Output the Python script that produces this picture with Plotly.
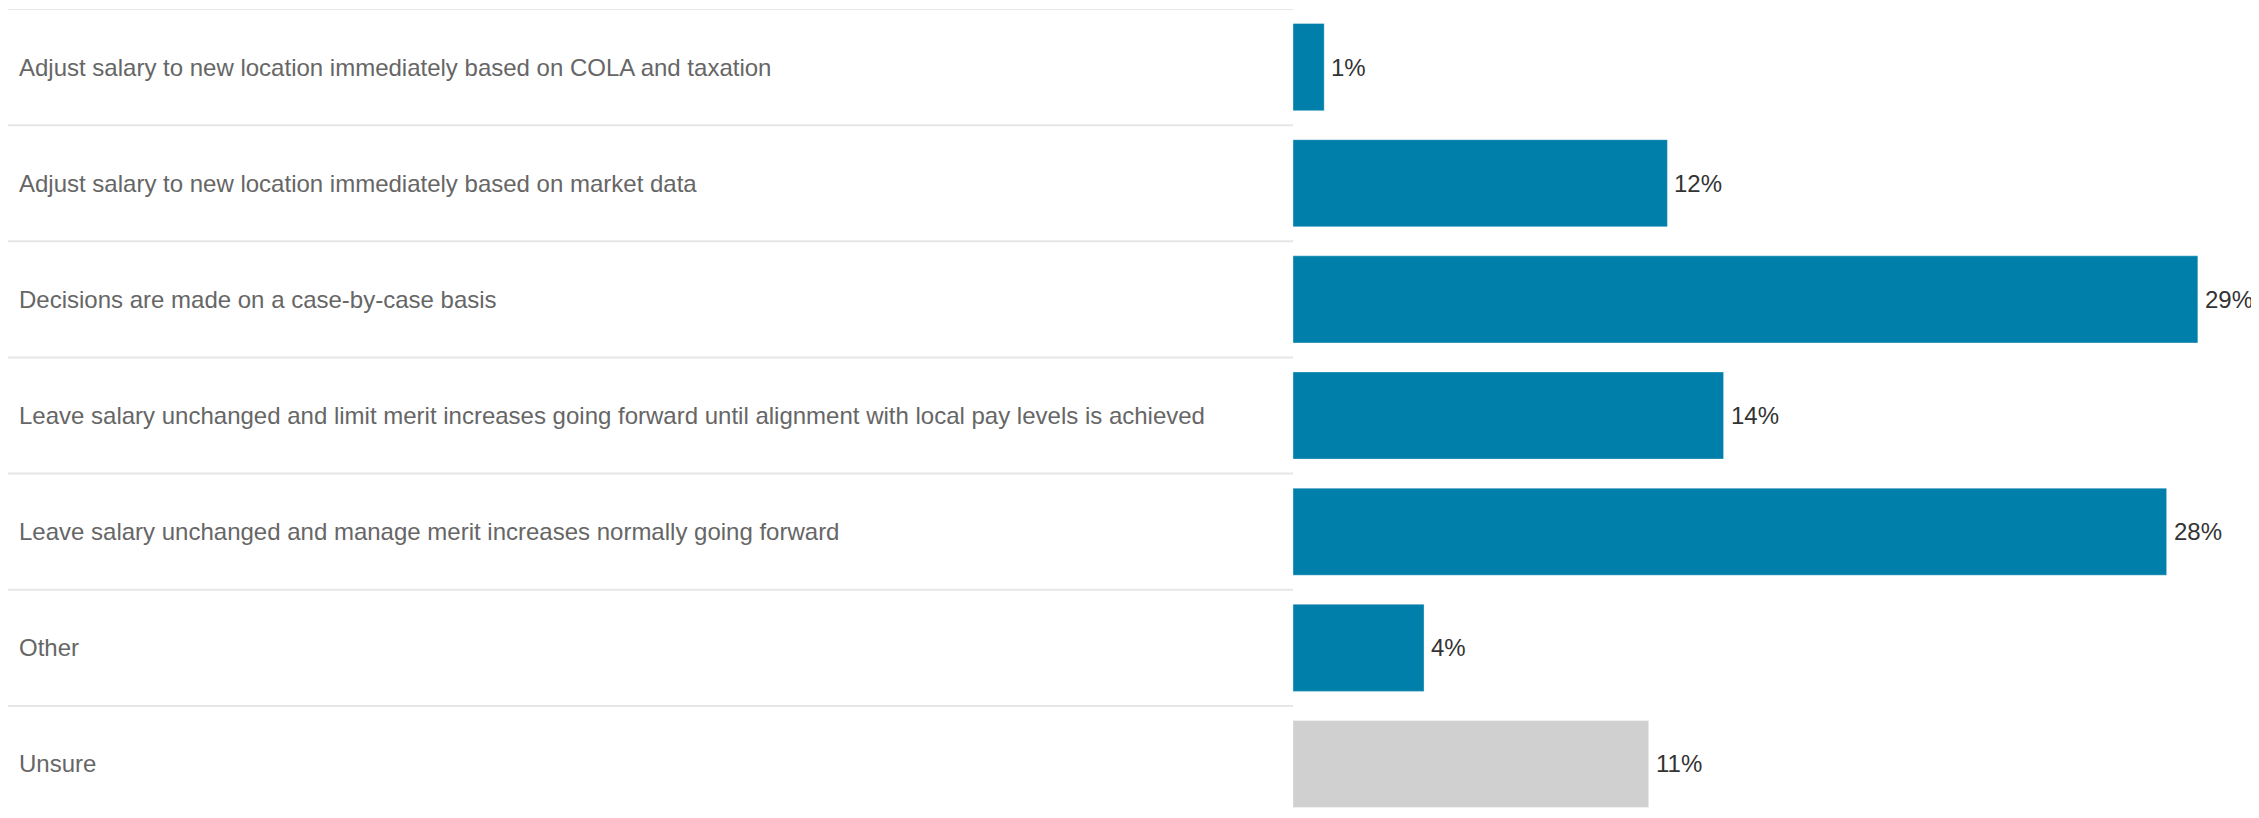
import plotly.graph_objects as go

categories = [
    "Adjust salary to new location immediately based on COLA and taxation",
    "Adjust salary to new location immediately based on market data",
    "Decisions are made on a case-by-case basis",
    "Leave salary unchanged and limit merit increases going forward until alignment with local pay levels is achieved",
    "Leave salary unchanged and manage merit increases normally going forward",
    "Other",
    "Unsure",
]
# bar lengths (labels show the rounded values)
values = [1, 12, 29, 13.8, 28, 4.2, 11.4]
value_labels = ["1%", "12%", "29%", "14%", "28%", "4%", "11%"]
bar_colors = ["#007FAA"] * 6 + ["#D0D0D0"]

W, H = 2251, 810
FONT = "Arial, Liberation Sans, sans-serif"
bar_left_px = 1285

fig = go.Figure()
fig.add_trace(go.Bar(
    x=values,
    y=categories,
    orientation="h",
    marker=dict(color=bar_colors, line=dict(width=1, color="rgba(255,255,255,0.35)")),
    hoverinfo="skip",
    showlegend=False,
))

annotations = []
shapes = []
for i, (cat, v, lab) in enumerate(zip(categories, values, value_labels)):
    annotations.append(dict(
        xref="paper", yref="y", x=9 / W, y=cat, xanchor="left", yanchor="middle",
        text=cat, showarrow=False, font=dict(family=FONT, size=24, color="#666666"),
    ))
    annotations.append(dict(
        xref="x", yref="y", x=v, y=cat, xanchor="left", yanchor="middle", xshift=5,
        text=lab, showarrow=False, font=dict(family=FONT, size=24, color="#333333"),
    ))
    shapes.append(dict(
        type="line", xref="paper", yref="y", x0=0, x1=bar_left_px / W,
        y0=i - 0.5, y1=i - 0.5, line=dict(color="#E6E6E6", width=2), layer="below",
    ))

fig.update_layout(
    width=W, height=H,
    margin=dict(l=0, r=0, t=1, b=0, pad=0),
    paper_bgcolor="white", plot_bgcolor="white",
    bargap=0.25,
    xaxis=dict(domain=[bar_left_px / W, 1], range=[0, 30.96], showgrid=False,
               zeroline=False, showticklabels=False, showline=False, fixedrange=True),
    yaxis=dict(range=[6.465, -0.5], showgrid=False, zeroline=False,
               showticklabels=False, showline=False, fixedrange=True),
    annotations=annotations,
    shapes=shapes,
    font=dict(family=FONT),
)

fig.write_html("out.html")
